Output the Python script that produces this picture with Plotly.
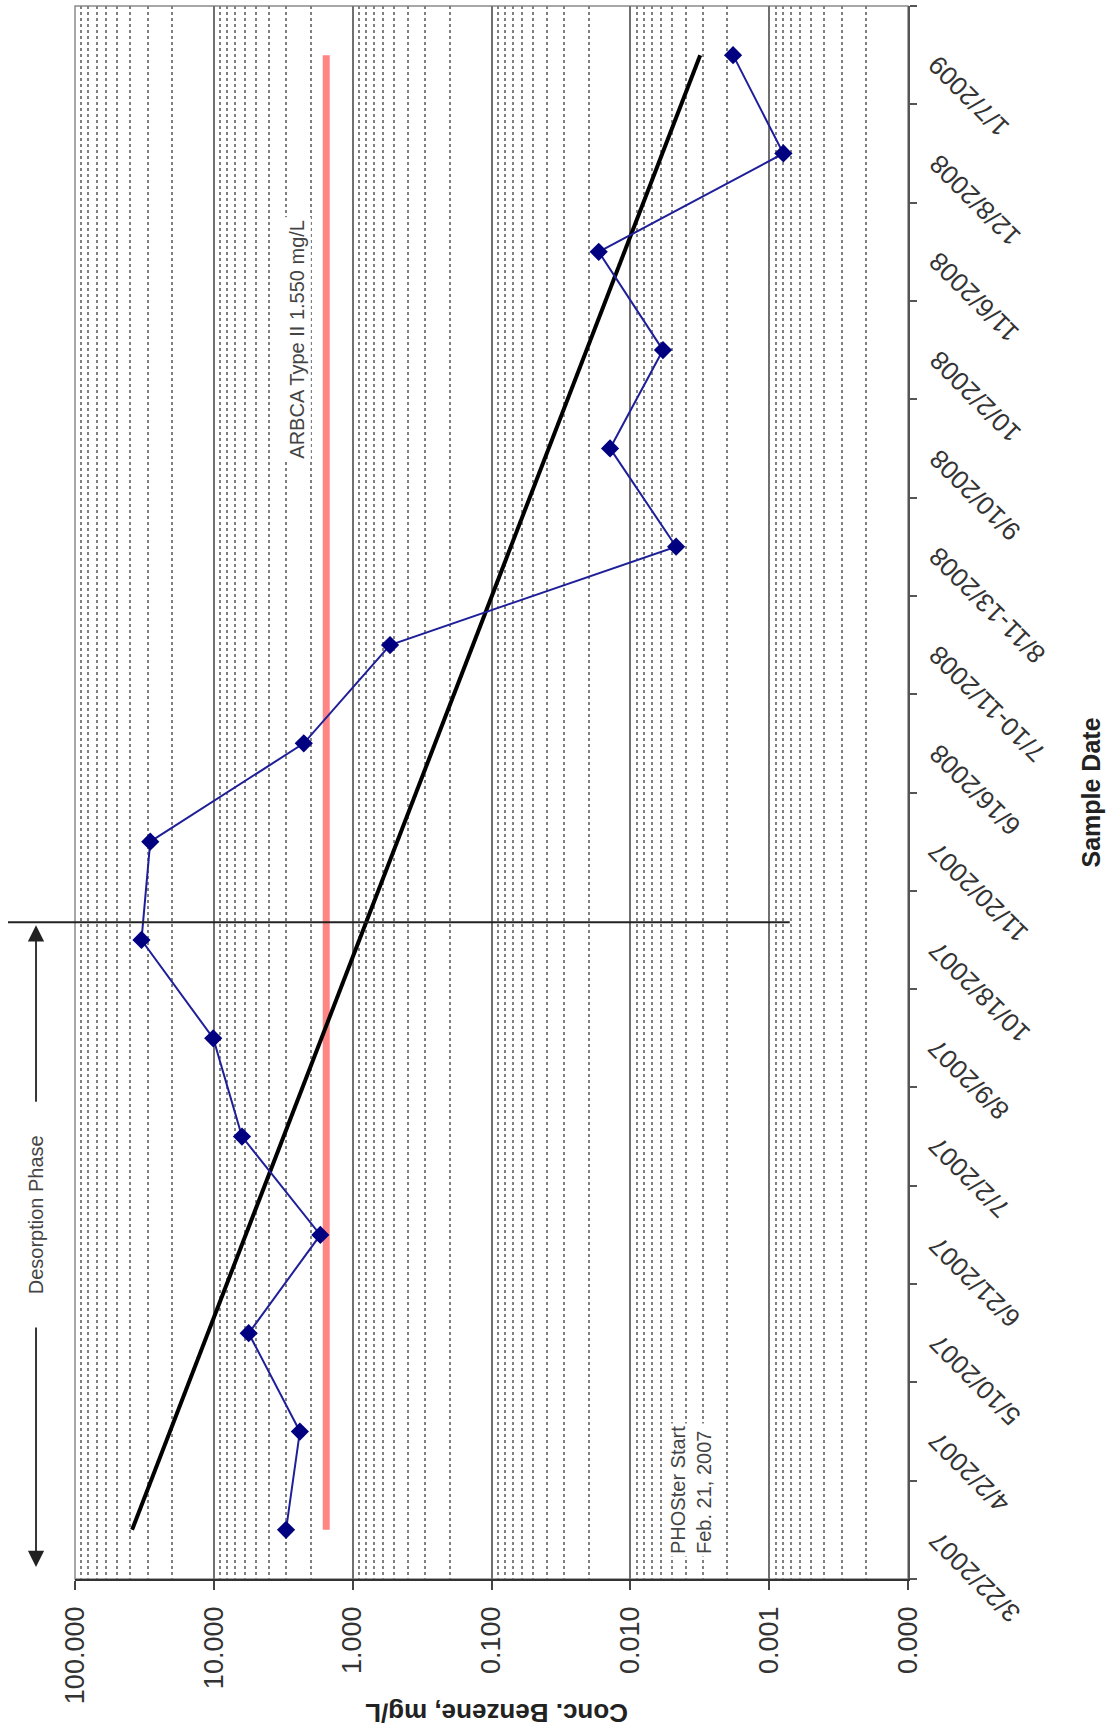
import plotly.graph_objects as go

# Sample dates, oldest at the bottom of the category axis
sample_dates = ['3/22/2007', '4/2/2007', '5/10/2007', '6/21/2007', '7/2/2007',
                '8/9/2007', '10/18/2007', '11/20/2007', '6/16/2008', '7/10-11/2008',
                '8/11-13/2008', '9/10/2008', '10/2/2008', '11/6/2008', '12/8/2008',
                '1/7/2009']

# Benzene concentration, mg/L
benzene = [3.02, 2.40, 5.61, 1.71, 6.27, 10.1, 33.2, 28.7, 2.25, 0.538,
           0.00468, 0.0140, 0.00582, 0.0169, 0.00079, 0.00182]

# Exponential trend (straight on the log axis): first and last sample
trend_ends = [38.8, 0.00314]

# ARBCA Type II standard
arbca_limit = 1.55

conc_tickvals = [100, 10, 1, 0.1, 0.01, 0.001, 0.0001]
conc_ticktext = ['100.000', '10.000', '1.000', '0.100', '0.010', '0.001', '0.000']
minor_vals = [m * 10.0 ** e for e in range(-4, 2) for m in range(2, 10)]

FONT = 'Liberation Sans, Arial, sans-serif'
TXT = '#333333'

fig = go.Figure()

fig.add_trace(go.Scatter(
    x=[arbca_limit, arbca_limit], y=[sample_dates[0], sample_dates[-1]],
    mode='lines', line=dict(color='#ff8585', width=7), hoverinfo='skip',
    showlegend=False))

fig.add_trace(go.Scatter(
    x=trend_ends, y=[sample_dates[0], sample_dates[-1]],
    mode='lines', line=dict(color='#000000', width=4), showlegend=False))

fig.add_trace(go.Scatter(
    x=benzene, y=sample_dates, mode='lines+markers',
    line=dict(color='#1f1f99', width=2),
    marker=dict(symbol='diamond', size=14, color='#000080'),
    showlegend=False))

fig.update_xaxes(
    type='log', range=[2, -4], tickvals=conc_tickvals, ticktext=conc_ticktext,
    tickangle=-90, tickfont=dict(family=FONT, size=27, color=TXT),
    ticks='outside', ticklen=9, tickcolor='#444', tickwidth=1.5,
    ticklabelstandoff=6,
    showgrid=True, gridcolor='#707070', gridwidth=1.5,
    minor=dict(tickvals=minor_vals, showgrid=True, gridcolor='#808080',
               griddash='dot', gridwidth=1.5, ticks=''),
    showline=True, linecolor='#333', linewidth=1.5, zeroline=False,
    automargin=False)

fig.update_yaxes(
    type='category', categoryorder='array', categoryarray=sample_dates,
    range=[-0.5, len(sample_dates) - 0.5], side='right',
    showticklabels=False, tickson='boundaries', ticks='outside', ticklen=7,
    tickcolor='#555', tickwidth=1.5, showgrid=False,
    showline=True, linecolor='#555', linewidth=1.5, zeroline=False,
    automargin=False)

annotations = []

# Date labels beside the category axis
for d in sample_dates:
    annotations.append(dict(
        text=d, xref='paper', x=1, xshift=12, yref='y', y=d, yshift=8,
        xanchor='left', yanchor='top', textangle=-135, showarrow=False,
        font=dict(family=FONT, size=26, color=TXT)))

annotations += [
    dict(text='<b>Sample Date</b>', xref='paper', x=1.2185, yref='paper', y=0.5,
         xanchor='center', yanchor='middle', textangle=-90, showarrow=False,
         font=dict(family=FONT, size=25, color='#222')),
    dict(text='<b>Conc. Benzene, mg/L</b>', xref='paper', x=0.506, yref='paper',
         y=-0.0852, xanchor='center', yanchor='middle', textangle=180,
         showarrow=False, font=dict(family=FONT, size=26, color='#222')),
    dict(text='ARBCA Type II 1.550 mg/L', xref='paper', x=0.2665, yref='paper',
         y=0.7885, xanchor='center', yanchor='middle', textangle=-90,
         showarrow=False, bgcolor='white', borderpad=2,
         font=dict(family=FONT, size=20, color='#444')),
    dict(text='PHOSter Start<br>Feb. 21, 2007', xref='paper', x=0.7395,
         yref='paper', y=0.0566, xanchor='center', yanchor='middle',
         textangle=-90, showarrow=False, bgcolor='white', borderpad=2,
         align='left', font=dict(family=FONT, size=20, color='#444')),
    dict(text='Desorption Phase', xref='paper', x=-0.0468, yref='y', y=3.2,
         xanchor='center', yanchor='middle', textangle=-90, showarrow=False,
         font=dict(family=FONT, size=20, color='#444')),
    # arrow heads of the desorption-phase span
    dict(text='', xref='paper', x=-0.0468, yref='y', y=6.15, ax=0, ay=178,
         showarrow=True, arrowhead=2, arrowsize=1.8, arrowwidth=1.8,
         arrowcolor='#222'),
    dict(text='', xref='paper', x=-0.0468, yref='y', y=-0.378, ax=0, ay=-241,
         showarrow=True, arrowhead=2, arrowsize=1.8, arrowwidth=1.8,
         arrowcolor='#222'),
]

shapes = [
    # plot frame
    dict(type='rect', xref='paper', yref='paper', x0=0, x1=1, y0=0, y1=1,
         line=dict(color='#8a8a8a', width=1.5), layer='below'),
    # start of treatment marker
    dict(type='line', xref='paper', yref='y', x0=-0.0804, x1=0.858,
         y0=6.18, y1=6.18, line=dict(color='#222', width=2)),
]

fig.update_layout(
    width=1118, height=1733, template='none',
    margin=dict(l=75, r=210, t=6, b=154),
    paper_bgcolor='white', plot_bgcolor='white',
    annotations=annotations, shapes=shapes,
    font=dict(family=FONT, color=TXT))

fig.write_html('out.html')
